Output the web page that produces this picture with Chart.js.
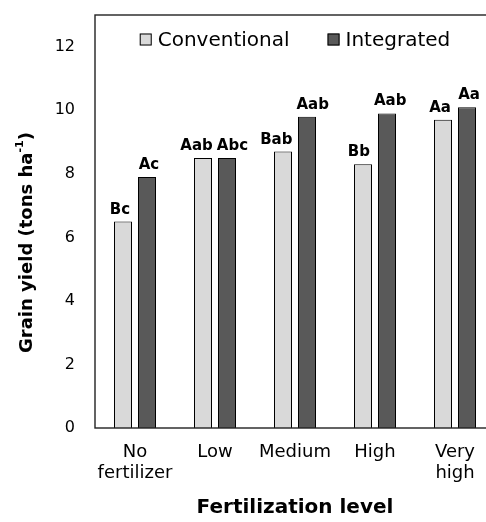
<!DOCTYPE html>
<html>
<head>
<meta charset="utf-8">
<script src="https://cdn.jsdelivr.net/npm/chart.js@4/dist/chart.umd.min.js"></script>
<style>
  html, body { margin: 0; padding: 0; background: #fff; overflow: hidden; }
</style>
</head>
<body>
<canvas id="chartJScanvas" width="500" height="522"></canvas>
<script>
  var levels = [['No', 'fertilizer'], 'Low', 'Medium', 'High', ['Very', 'high']];
  var conventional = [6.5, 8.5, 8.7, 8.3, 9.7];
  var integrated = [7.9, 8.5, 9.8, 9.9, 10.1];
  var conventionalLetters = ['Bc', 'Aab', 'Bab', 'Bb', 'Aa'];
  var integratedLetters = ['Ac', 'Abc', 'Aab', 'Aab', 'Aa'];
  var seriesNames = ['Conventional', 'Integrated'];
  var yMax = 13;
  var yStep = 2;

  var FONT = '"DejaVu Sans", "Liberation Sans", Arial, sans-serif';
  Chart.defaults.font.family = FONT;
  Chart.defaults.color = '#000';

  // frame round the plot area (right side falls outside the window)
  var framePlugin = {
    id: 'frame',
    afterDraw: function (chart) {
      var a = chart.chartArea, ctx = chart.ctx;
      ctx.save();
      ctx.strokeStyle = '#222';
      ctx.lineWidth = 1.4;
      ctx.strokeRect(a.left, a.top, a.right - a.left, a.bottom - a.top);
      ctx.restore();
    }
  };

  // significance letters above every bar, pushed apart when a pair would touch
  var lettersPlugin = {
    id: 'letters',
    afterDatasetsDraw: function (chart) {
      var ctx = chart.ctx;
      var left = chart.getDatasetMeta(0).data, right = chart.getDatasetMeta(1).data;
      ctx.save();
      ctx.font = 'bold 15px ' + FONT;
      ctx.fillStyle = '#000';
      ctx.textAlign = 'center';
      ctx.textBaseline = 'alphabetic';
      for (var i = 0; i < left.length; i++) {
        var wl = ctx.measureText(conventionalLetters[i]).width;
        var wr = ctx.measureText(integratedLetters[i]).width;
        var xl = left[i].x - 3, xr = right[i].x + 2;
        var overlap = (xl + wl / 2 + 4) - (xr - wr / 2);
        if (overlap > 0) { xl -= overlap / 2; xr += overlap / 2; }
        ctx.fillText(conventionalLetters[i], xl, left[i].y - 8);
        ctx.fillText(integratedLetters[i], xr, right[i].y - 8);
      }
      ctx.restore();
    }
  };

  // legend sitting inside the plot, centred at the top
  var legendPlugin = {
    id: 'innerLegend',
    afterDraw: function (chart) {
      var ctx = chart.ctx, a = chart.chartArea;
      ctx.save();
      ctx.font = '20px ' + FONT;
      var items = chart.data.datasets.map(function (ds) {
        return { label: ds.label, color: ds.backgroundColor, w: 18 + ctx.measureText(ds.label).width };
      });
      var gap = 38;
      var total = gap * (items.length - 1);
      items.forEach(function (it) { total += it.w; });
      var x = (a.left + a.right) / 2 - total / 2;
      var y = a.top + 24.5;
      items.forEach(function (it) {
        ctx.fillStyle = it.color;
        ctx.fillRect(x, y - 6, 12, 12);
        ctx.strokeStyle = '#000';
        ctx.lineWidth = 1;
        ctx.strokeRect(x + 0.5, y - 5.5, 11, 11);
        ctx.fillStyle = '#000';
        ctx.textBaseline = 'middle';
        ctx.fillText(it.label, x + 18, y + 1);
        x += it.w + gap;
      });
      ctx.restore();
    }
  };

  // y axis title with superscript -1
  var yTitlePlugin = {
    id: 'yTitle',
    afterDraw: function (chart) {
      var ctx = chart.ctx, a = chart.chartArea;
      var main = 'Grain yield (tons ha', sup = '-1', end = ')';
      ctx.save();
      ctx.fillStyle = '#000';
      ctx.font = 'bold 18px ' + FONT;
      var w1 = ctx.measureText(main).width, w3 = ctx.measureText(end).width;
      ctx.font = 'bold 11px ' + FONT;
      var w2 = ctx.measureText(sup).width;
      var total = w1 + w2 + w3;
      ctx.translate(a.left - 68, (a.top + a.bottom) / 2 + 21);
      ctx.rotate(-Math.PI / 2);
      ctx.textBaseline = 'middle';
      ctx.textAlign = 'left';
      var x = -total / 2;
      ctx.font = 'bold 18px ' + FONT;
      ctx.fillText(main, x, 0);
      ctx.font = 'bold 11px ' + FONT;
      ctx.fillText(sup, x + w1, -7);
      ctx.font = 'bold 18px ' + FONT;
      ctx.fillText(end, x + w1 + w2, 0);
      ctx.restore();
    }
  };

  var ctx = document.getElementById('chartJScanvas').getContext('2d');
  var chart = new Chart(ctx, {
    type: 'bar',
    data: {
      labels: levels,
      datasets: [{
        label: seriesNames[0],
        data: conventional,
        backgroundColor: '#d9d9d9',
        borderColor: '#000',
        borderWidth: 1
      }, {
        label: seriesNames[1],
        data: integrated,
        backgroundColor: '#595959',
        borderColor: '#000',
        borderWidth: 1
      }]
    },
    options: {
      responsive: false,
      animation: false,
      categoryPercentage: 0.6,
      barPercentage: 0.75,
      layout: { padding: { left: 15, right: 5, top: 15, bottom: 0 } },
      plugins: {
        legend: { display: false },
        tooltip: { enabled: false }
      },
      scales: {
        x: {
          grid: { display: false, drawTicks: false },
          border: { display: false },
          ticks: {
            padding: 14,
            autoSkip: false,
            maxRotation: 0,
            minRotation: 0,
            font: { size: 18, lineHeight: 1.17 }
          },
          title: {
            display: true,
            text: 'Fertilization level',
            font: { size: 20, weight: 'bold' },
            padding: { top: 0, bottom: 2 }
          },
          afterFit: function (s) { s.height = 94; }
        },
        y: {
          min: 0,
          max: yMax,
          grid: { display: false, drawTicks: false },
          border: { display: false },
          ticks: { stepSize: yStep, includeBounds: false, padding: 20, font: { size: 16 } },
          afterFit: function (s) { s.width = 80; s.paddingTop = 0; s.paddingBottom = 0; }
        }
      }
    },
    plugins: [framePlugin, lettersPlugin, legendPlugin, yTitlePlugin]
  });
</script>
</body>
</html>
